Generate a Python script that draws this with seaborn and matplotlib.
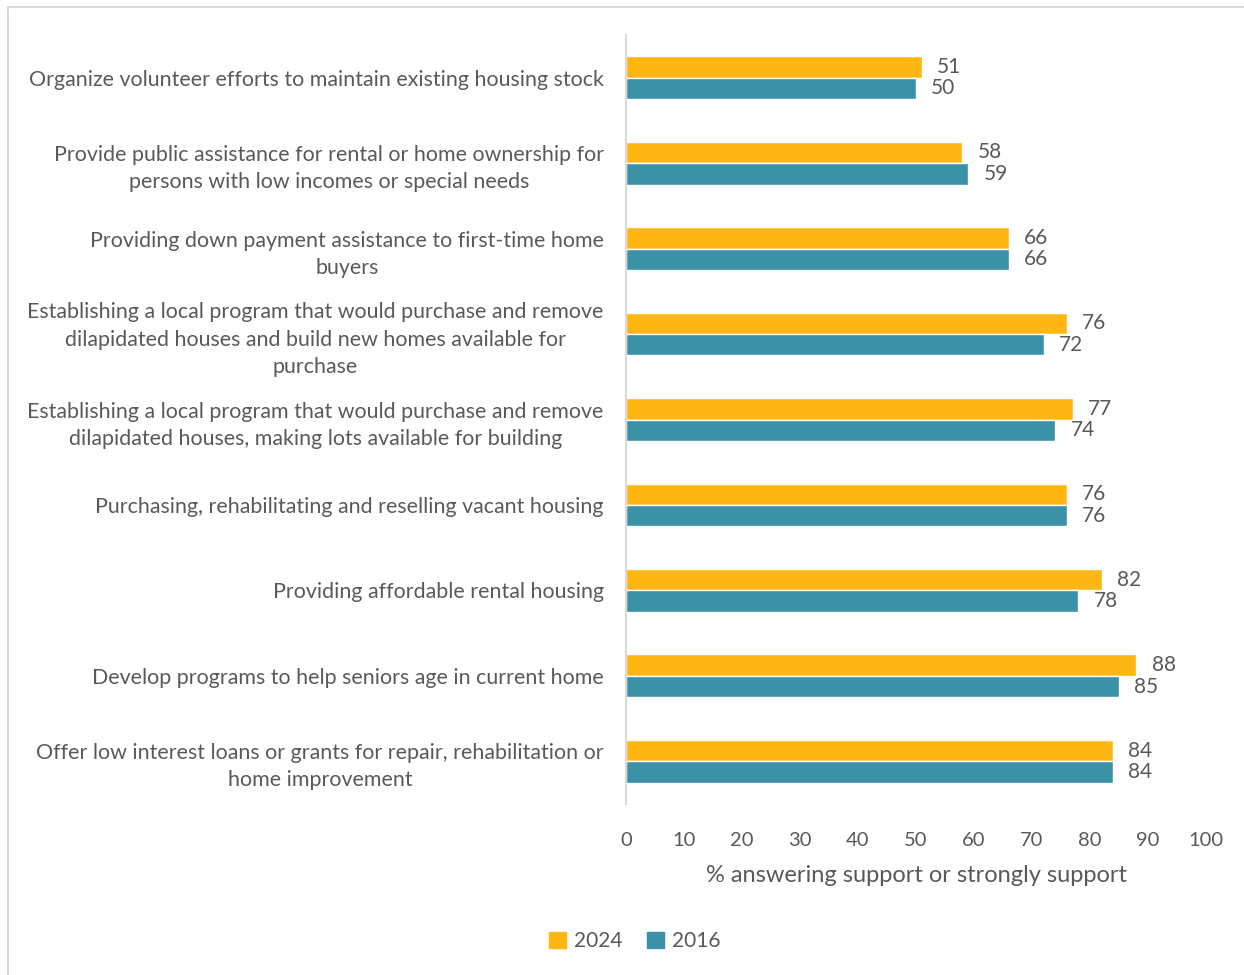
import matplotlib
matplotlib.use("Agg")
import matplotlib.pyplot as plt
from matplotlib.lines import Line2D
import seaborn as sns
import pandas as pd

categories = [
    "Organize volunteer efforts to maintain existing housing stock",
    "Provide public assistance for rental or home ownership for\npersons with low incomes or special needs",
    "Providing down payment assistance to first-time home\nbuyers",
    "Establishing a local program that would purchase and remove\ndilapidated houses and build new homes available for\npurchase",
    "Establishing a local program that would purchase and remove\ndilapidated houses, making lots available for building",
    "Purchasing, rehabilitating and reselling vacant housing",
    "Providing affordable rental housing",
    "Develop programs to help seniors age in current home",
    "Offer low interest loans or grants for repair, rehabilitation or\nhome improvement",
]
values_2024 = [51, 58, 66, 76, 77, 76, 82, 88, 84]
values_2016 = [50, 59, 66, 72, 74, 76, 78, 85, 84]
years = ["2024", "2016"]
x_ticks = [0, 10, 20, 30, 40, 50, 60, 70, 80, 90, 100]
x_label = "% answering support or strongly support"

colors = {"2024": "#FDB612", "2016": "#3A91A8"}
text_gray = "#595959"

df = pd.DataFrame({
    "category": categories * 2,
    "value": values_2024 + values_2016,
    "year": [years[0]] * len(categories) + [years[1]] * len(categories),
})

sns.set_theme(style="white")
plt.rcParams["font.family"] = ["Lato", "DejaVu Sans"]

W, H = 1244, 975
fig = plt.figure(figsize=(W / 100, H / 100), dpi=100)
ax = fig.add_axes([626 / W, 1 - 804 / H, 580 / W, (804 - 35) / H])

sns.barplot(data=df, x="value", y="category", hue="year", hue_order=years,
            order=categories, orient="h", width=0.5, palette=colors,
            saturation=1, ax=ax, legend=False)

for container in ax.containers:
    ax.bar_label(container, padding=11, fontsize=15, color=text_gray)

ax.set_xlim(0, 100)
ax.set_xticks(x_ticks)
ax.set_xlabel(x_label, fontsize=17, color=text_gray, labelpad=12)
ax.set_ylabel("")
ax.tick_params(axis="x", length=0, pad=20, labelsize=14.5, labelcolor=text_gray)
ax.tick_params(axis="y", length=0, pad=16, labelsize=15.4, labelcolor=text_gray)
for lbl in ax.get_yticklabels():
    lbl.set_multialignment("center")
    lbl.set_linespacing(1.45)

for side in ["top", "right", "bottom"]:
    ax.spines[side].set_visible(False)
ax.spines["left"].set_color("#D9D9D9")
ax.spines["left"].set_linewidth(1.5)

handles = [plt.Rectangle((0, 0), 1, 1, color=colors[y]) for y in years]
fig.legend(handles, years, loc="center", bbox_to_anchor=(635 / W, 1 - 941 / H),
           ncol=2, frameon=False, fontsize=15, labelcolor=text_gray,
           handlelength=0.8, handleheight=0.8, handletextpad=0.4, columnspacing=1.2)

# outer chart frame (top and left edges)
fig.add_artist(Line2D([8 / W, 1], [1 - 7 / H, 1 - 7 / H], color="#D9D9D9", lw=1.5,
                      transform=fig.transFigure))
fig.add_artist(Line2D([8 / W, 8 / W], [0, 1 - 7 / H], color="#D9D9D9", lw=1.5,
                      transform=fig.transFigure))

fig.savefig("out.png", dpi=100, facecolor="white")
